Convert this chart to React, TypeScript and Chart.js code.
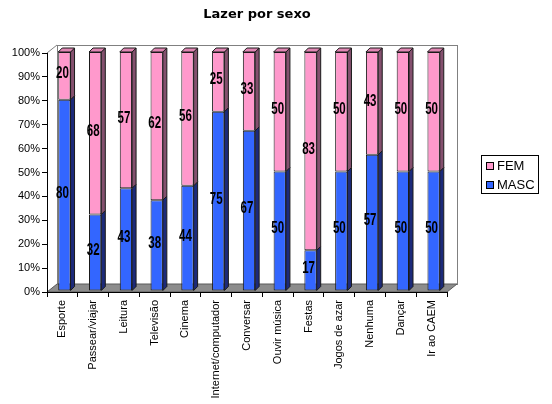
import { useEffect, useRef } from 'react';
import { Chart, registerables } from 'chart.js';

Chart.register(...registerables);

const categories = [
  'Esporte',
  'Passear/viajar',
  'Leitura',
  'Televisão',
  'Cinema',
  'Internet/computador',
  'Conversar',
  'Ouvir música',
  'Festas',
  'Jogos de azar',
  'Nenhuma',
  'Dançar',
  'Ir ao CAEM',
];
const mascValues = [80, 32, 43, 38, 44, 75, 67, 50, 17, 50, 57, 50, 50];
const femValues = [20, 68, 57, 62, 56, 25, 33, 50, 83, 50, 43, 50, 50];
const legendLabels = ['FEM', 'MASC'];

const FONT = "'Liberation Sans', Arial, sans-serif";
const PINK = '#ff99cc';
const BLUE = '#3366ff';
const sideColors = ['#1c2a7a', '#84506e'];
const TOP_COLOR = '#e086b3';

// wall depth and bar depth
const WALL_DX = 10;
const WALL_DY = -8;
const BAR_DX = 4;
const BAR_DY = -4;
const SHIFT_X = 2;
const SHIFT_Y = -1;

const threeD = {
  id: 'threeD',
  beforeDraw(chart: any) {
    const { ctx, chartArea: a } = chart;
    ctx.save();
    ctx.lineWidth = 1;
    ctx.strokeStyle = '#808080';
    // back wall
    ctx.strokeRect(
      Math.round(a.left + WALL_DX) + 0.5,
      Math.round(a.top + WALL_DY) + 0.5,
      a.right - a.left,
      a.bottom - a.top
    );
    // left wall top edge
    ctx.beginPath();
    ctx.moveTo(a.left, a.top);
    ctx.lineTo(a.left + WALL_DX, a.top + WALL_DY);
    ctx.stroke();
    // floor
    ctx.beginPath();
    ctx.moveTo(a.left, a.bottom);
    ctx.lineTo(a.right, a.bottom);
    ctx.lineTo(a.right + WALL_DX, a.bottom + WALL_DY);
    ctx.lineTo(a.left + WALL_DX, a.bottom + WALL_DY);
    ctx.closePath();
    ctx.fillStyle = '#8c8c8c';
    ctx.fill();
    ctx.strokeStyle = '#5a5a5a';
    ctx.stroke();
    ctx.restore();
  },
  beforeDatasetsDraw(chart: any) {
    chart.ctx.save();
    chart.ctx.translate(SHIFT_X, SHIFT_Y);
  },
  afterDatasetsDraw(chart: any) {
    const ctx = chart.ctx;
    const count = chart.data.datasets.length;
    ctx.lineWidth = 1;
    ctx.strokeStyle = '#1a1a1a';
    for (let di = 0; di < count; di++) {
      const meta = chart.getDatasetMeta(di);
      meta.data.forEach((bar: any) => {
        const { x, y, base, width } = bar.getProps(['x', 'y', 'base', 'width'], true);
        const x0 = x - width / 2;
        const x1 = x + width / 2;
        ctx.beginPath();
        ctx.moveTo(x1, y);
        ctx.lineTo(x1 + BAR_DX, y + BAR_DY);
        ctx.lineTo(x1 + BAR_DX, base + BAR_DY);
        ctx.lineTo(x1, base);
        ctx.closePath();
        ctx.fillStyle = sideColors[di];
        ctx.fill();
        ctx.stroke();
        if (di === count - 1) {
          ctx.beginPath();
          ctx.moveTo(x0, y);
          ctx.lineTo(x1, y);
          ctx.lineTo(x1 + BAR_DX, y + BAR_DY);
          ctx.lineTo(x0 + BAR_DX, y + BAR_DY);
          ctx.closePath();
          ctx.fillStyle = TOP_COLOR;
          ctx.fill();
          ctx.stroke();
        }
      });
    }
    ctx.restore();

    // value labels
    ctx.save();
    ctx.fillStyle = '#000';
    ctx.font = `bold 16px ${FONT}`;
    ctx.textAlign = 'center';
    ctx.textBaseline = 'middle';
    for (let di = 0; di < count; di++) {
      const meta = chart.getDatasetMeta(di);
      const values = chart.data.datasets[di].data;
      meta.data.forEach((bar: any, i: number) => {
        const { x, y, base } = bar.getProps(['x', 'y', 'base'], true);
        ctx.save();
        ctx.translate(x, (y + base) / 2 - 3);
        ctx.scale(0.72, 1);
        ctx.fillText(String(values[i]), 0, 0);
        ctx.restore();
      });
    }
    ctx.restore();
  },
  afterDraw(chart: any) {
    const ctx = chart.ctx;
    ctx.save();
    // title
    ctx.fillStyle = '#000';
    ctx.font = "bold 13px 'DejaVu Sans', Verdana, sans-serif";
    ctx.textAlign = 'center';
    ctx.textBaseline = 'alphabetic';
    ctx.fillText('Lazer por sexo', 257, 18);

    // legend
    ctx.lineWidth = 1;
    ctx.strokeStyle = '#000';
    ctx.fillStyle = '#fff';
    ctx.fillRect(481.5, 155.5, 57, 38);
    ctx.strokeRect(481.5, 155.5, 57, 38);
    const colors = [PINK, BLUE];
    const rows = [166, 185];
    ctx.font = `13px ${FONT}`;
    ctx.textAlign = 'left';
    ctx.textBaseline = 'middle';
    legendLabels.forEach((label, i) => {
      ctx.fillStyle = colors[i];
      ctx.fillRect(486.5, rows[i] - 3.5, 7, 7);
      ctx.strokeRect(486.5, rows[i] - 3.5, 7, 7);
      ctx.fillStyle = '#000';
      ctx.fillText(label, 497, rows[i] + 0.5);
    });
    ctx.restore();
  },
};

export default function App() {
  const canvasRef = useRef<HTMLCanvasElement>(null);
  const chartRef = useRef<Chart | null>(null);

  useEffect(() => {
    document.body.style.margin = '0';
    if (!canvasRef.current) return;
    if (chartRef.current) chartRef.current.destroy();

    chartRef.current = new Chart(canvasRef.current, {
      type: 'bar',
      data: {
        labels: categories,
        datasets: [
          {
            label: 'MASC',
            data: mascValues,
            backgroundColor: BLUE,
            borderColor: '#1a1a1a',
            borderWidth: 1,
            borderSkipped: false,
            barPercentage: 0.4,
            categoryPercentage: 1,
            clip: false,
          } as any,
          {
            label: 'FEM',
            data: femValues,
            backgroundColor: PINK,
            borderColor: '#1a1a1a',
            borderWidth: 1,
            borderSkipped: false,
            barPercentage: 0.4,
            categoryPercentage: 1,
            clip: false,
          } as any,
        ],
      },
      options: {
        responsive: false,
        animation: false,
        layout: { padding: { left: 0, top: 53, right: 105, bottom: 0 } },
        plugins: {
          legend: { display: false },
          title: { display: false },
          tooltip: { enabled: false },
        },
        scales: {
          x: {
            stacked: true,
            afterFit: (scale: any) => {
              scale.height = 112;
            },
            grid: {
              drawOnChartArea: false,
              drawTicks: true,
              tickLength: 5,
              color: '#000',
              offset: true,
            },
            border: { color: '#000' },
            ticks: {
              color: '#000',
              font: { family: FONT, size: 11 },
              minRotation: 90,
              maxRotation: 90,
              autoSkip: false,
              padding: 3,
            },
          },
          y: {
            stacked: true,
            min: 0,
            max: 100,
            afterFit: (scale: any) => {
              scale.width = 47;
            },
            grid: {
              drawOnChartArea: false,
              drawTicks: true,
              tickLength: 5,
              color: '#000',
            },
            border: { color: '#000' },
            ticks: {
              stepSize: 10,
              color: '#000',
              font: { family: FONT, size: 11 },
              padding: 2,
              callback: (v: any) => `${v}%`,
            },
          },
        },
      },
      plugins: [threeD],
    });

    return () => {
      if (chartRef.current) {
        chartRef.current.destroy();
        chartRef.current = null;
      }
    };
  }, []);

  return (
    <div style={{ width: 552, height: 404, position: 'relative' }}>
      <canvas ref={canvasRef} width={552} height={404} style={{ display: 'block' }} />
    </div>
  );
}
